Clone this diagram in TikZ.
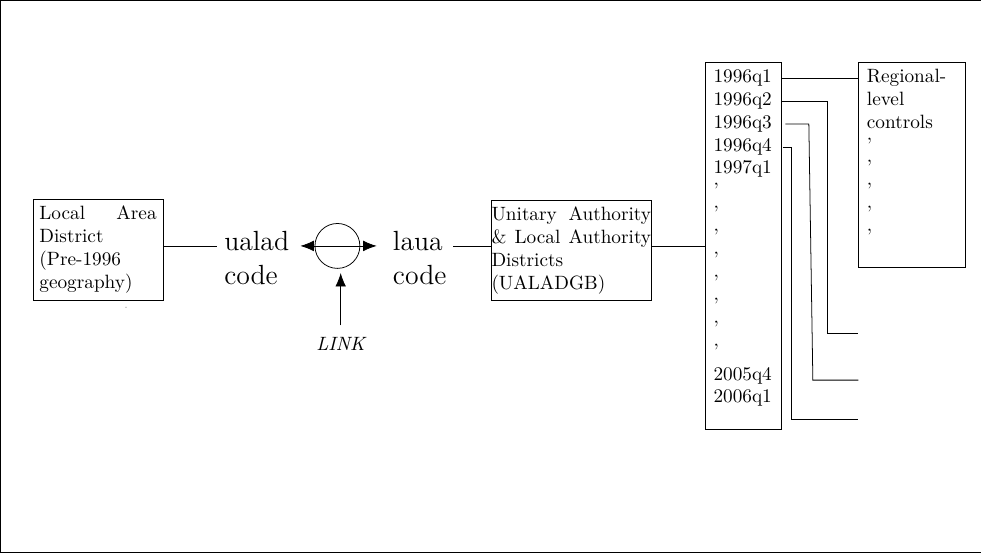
\documentclass[tikz,border=0pt]{standalone}
\usepackage{amsmath}
\usetikzlibrary{calc}
\usetikzlibrary{positioning}
\usetikzlibrary{arrows.meta}

\tikzset{
  areabox/.style={draw, align=justify},
  codetext/.style={font=\Large, align=left, anchor=west},
  rowtext/.style={anchor=base west, inner sep=0pt},
}

\begin{document}
\begin{tikzpicture}[>={Latex[length=7pt,width=5.5pt]}]
      \useasboundingbox (0,0) rectangle (17.91,10.08);
      \draw (0,0) rectangle (17.91,10.08);
      % the two geographies
      \node[areabox, text width=2.14cm] (lad) at (1.79,5.52) {Local Area\linebreak District\\(Pre-1996\\geography)};
      \fill[black!45] (2.30,4.47) circle (0.35pt);
      \node[areabox, text width=82.9pt, inner xsep=0.3pt] (ua) at (10.43,5.51) {Unitary Authority\linebreak \& Local Authority\linebreak Districts\\(UALADGB)};
      % codes and the link between them
      \node[codetext] (ualad) at (3.97,5.37) {ualad\\code};
      \node[codetext] (laua) at (7.05,5.37) {laua\\code};
      \node[draw, circle, minimum size=0.82cm, inner sep=0pt] (link) at (6.16,5.59) {};
      \node[font=\itshape, anchor=base] (linklbl) at (6.22,3.69) {LINK};
      \draw (lad.east |- link) -- (ualad.west |- link);
      \draw[<->] ([xshift=-0.26cm]link.west) -- ([xshift=0.30cm]link.east);
      \draw[->, shorten <=2.4pt, shorten >=2.2pt] (linklbl.north) -- (linklbl.north |- link.south);
      \draw (laua.east |- link) -- (ua.west |- link);
      % quarters
      \node[draw, minimum width=1.40cm, minimum height=6.69cm, inner sep=0pt] (periods) at (13.57,5.587) {};
      \foreach \t [count=\i] in {1996q1,1996q2,1996q3,1996q4,1997q1,','{},','{},','{},','{},2005q4,2006q1}
        \node[rowtext] (p\i) at (13.02,{8.576-0.418*(\i-1)}) {\t};
      \draw (ua.east |- link) -- (periods.west |- link);
      % regional controls
      \node[draw, minimum width=1.95cm, minimum height=3.736cm, inner sep=0pt] (regional) at (16.645,7.066) {};
      \foreach \t [count=\i] in {Regional-,level,controls,','{},','{},'}
        \node[rowtext] (r\i) at (15.82,{8.576-0.418*(\i-1)}) {\t};
      \coordinate (out2) at (15.67,4.00);
      \coordinate (out3) at (15.67,3.14);
      \coordinate (out4) at (15.67,2.42);
      \draw (p1.mid -| periods.east) -- (p1.mid -| regional.west);
      \draw (p2.mid -| periods.east) -| ([xshift=-0.56cm]out2) -- (out2);
      \draw ([xshift=1.7pt]p3.mid -| periods.east) -- ++(0.43,0) -- ([xshift=-0.83cm]out3) -- (out3);
      \draw ([xshift=0.5pt]p4.mid -| periods.east) -| ([xshift=-1.215cm]out4) -- (out4);
    \end{tikzpicture}
\end{document}
